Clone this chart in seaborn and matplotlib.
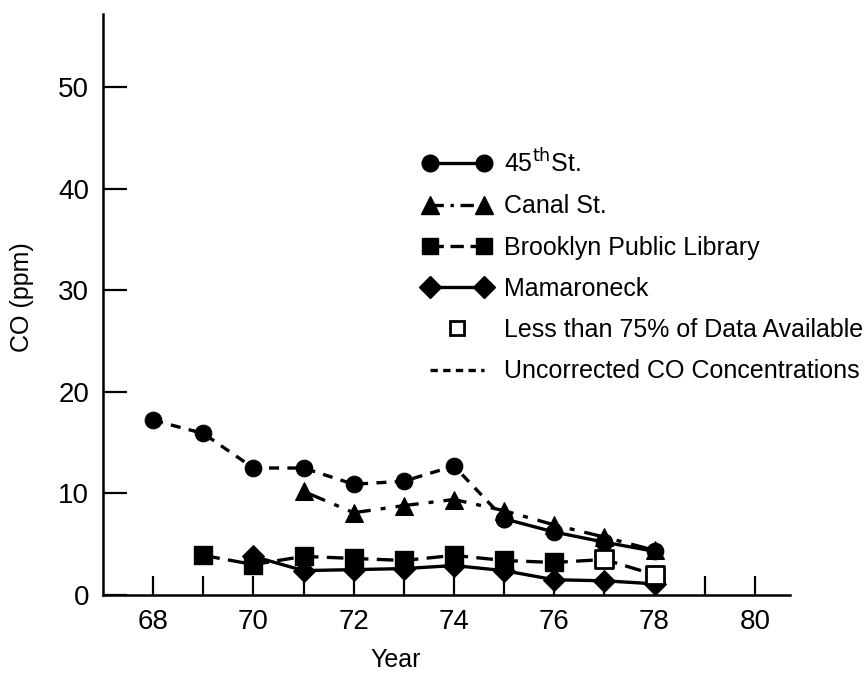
import matplotlib
matplotlib.use("Agg")
import matplotlib.pyplot as plt
import seaborn as sns
import pandas as pd
from matplotlib.lines import Line2D
from matplotlib.legend_handler import HandlerLine2D

# values (CO in ppm, year = 19xx)
years_45 = [68, 69, 70, 71, 72, 73, 74, 75, 76, 77, 78]
co_45 = [17.2, 15.9, 12.5, 12.5, 10.9, 11.2, 12.7, 7.5, 6.2, 5.2, 4.3]
corrected_from_45 = 75  # before this year the values are uncorrected

years_canal = [71, 72, 73, 74, 75, 76, 77, 78]
co_canal = [10.2, 8.1, 8.8, 9.4, 8.3, 6.9, 5.7, 4.4]

years_brooklyn = [69, 70, 71, 72, 73, 74, 75, 76, 77, 78]
co_brooklyn = [3.9, 3.0, 3.8, 3.6, 3.4, 3.9, 3.4, 3.2, 3.5, 2.0]
partial_brooklyn = [77, 78]  # less than 75% of data available

years_mam = [70, 71, 72, 73, 74, 75, 76, 77, 78]
co_mam = [3.8, 2.4, 2.5, 2.6, 2.9, 2.4, 1.5, 1.4, 1.1]

x_ticks = [68, 70, 72, 74, 76, 78, 80]
x_minor = [69, 71, 73, 75, 77, 79]
y_ticks = [0, 10, 20, 30, 40, 50]

sns.set_style("ticks", {"axes.edgecolor": "black", "text.color": "black",
                        "xtick.color": "black", "ytick.color": "black",
                        "axes.labelcolor": "black"})
plt.rcParams["font.family"] = ["Liberation Sans", "DejaVu Sans"]

fig = plt.figure(figsize=(8.68, 6.75), dpi=100)
ax = fig.add_axes([0.1187, 0.1185, 0.7913, 0.861])

lw = 2.4
ms = 12
df45 = pd.DataFrame({"year": years_45, "co": co_45})
unc = df45[df45.year <= corrected_from_45]
cor = df45[df45.year >= corrected_from_45]
sns.lineplot(data=unc, x="year", y="co", ax=ax, color="black", lw=lw,
             linestyle=(0, (3, 2.5)), marker="o", markersize=ms, mec="black")
sns.lineplot(data=cor, x="year", y="co", ax=ax, color="black", lw=lw,
             linestyle="-", marker="o", markersize=ms, mec="black")

sns.lineplot(x=years_canal, y=co_canal, ax=ax, color="black", lw=lw,
             linestyle=(0, (7, 3, 1.5, 3)), marker="^", markersize=ms + 1, mec="black")

dfb = pd.DataFrame({"year": years_brooklyn, "co": co_brooklyn})
dfb["open"] = dfb.year.isin(partial_brooklyn)
sns.lineplot(data=dfb, x="year", y="co", ax=ax, color="black", lw=lw,
             linestyle=(0, (5, 2.5)), marker=None)
sns.lineplot(x=years_mam, y=co_mam, ax=ax, color="black", lw=lw,
             linestyle="-", marker="D", markersize=ms - 1, mec="black")
sns.scatterplot(data=dfb[~dfb.open], x="year", y="co", ax=ax, marker="s",
                s=150, color="black", edgecolor="black", zorder=5)
sns.scatterplot(data=dfb[dfb.open], x="year", y="co", ax=ax, marker="s",
                s=150, color="white", edgecolor="black", linewidth=2, zorder=5)

ax.set_xlim(67, 80.7)
ax.set_ylim(0, 57.2)
ax.set_xticks(x_ticks)
ax.set_xticks(x_minor, minor=True)
ax.set_yticks(y_ticks)
ax.tick_params(axis="both", which="both", direction="in", width=1.6, labelsize=20, pad=10)
ax.tick_params(axis="x", which="both", length=14)
ax.tick_params(axis="y", length=17)
ax.xaxis.set_minor_formatter(plt.NullFormatter())
for s in ["top", "right"]:
    ax.spines[s].set_visible(False)
for s in ["left", "bottom"]:
    ax.spines[s].set_linewidth(1.8)
ax.set_xlabel("Year", fontsize=18)
ax.set_ylabel("CO (ppm)", fontsize=18)
ax.xaxis.set_label_coords(0.4265, -0.091)
ax.yaxis.set_label_coords(-0.1, 0.513)

h45 = Line2D([], [], color="black", lw=lw, marker="o", markersize=ms)
hcanal = Line2D([], [], color="black", lw=lw, linestyle=(0, (4, 2, 1, 2)), marker="^", markersize=ms + 1)
hbrook = Line2D([], [], color="black", lw=lw, linestyle=(0, (4, 2)), marker="s", markersize=ms - 1)
hmam = Line2D([], [], color="black", lw=lw, marker="D", markersize=ms - 1)
hopen = Line2D([], [], color="none", marker="s", markersize=ms - 2, mfc="white", mec="black", mew=2)
hunc = Line2D([], [], color="black", lw=lw, linestyle=(0, (2.2, 1.6)))
labels = ["45$^{\\rm th}$St.", "Canal St.", "Brooklyn Public Library", "Mamaroneck",
          "Less than 75% of Data Available", "Uncorrected CO Concentrations"]
fig.legend([h45, hcanal, hbrook, hmam, hopen, hunc], labels, loc="upper left",
           bbox_to_anchor=(410 / 868, 1 - 136 / 675), frameon=False, fontsize=18,
           numpoints=2, handlelength=2.75, handletextpad=0.52, labelspacing=0.69,
           borderpad=0, handler_map={hopen: HandlerLine2D(numpoints=1)})

fig.savefig("out.png", dpi=100)
